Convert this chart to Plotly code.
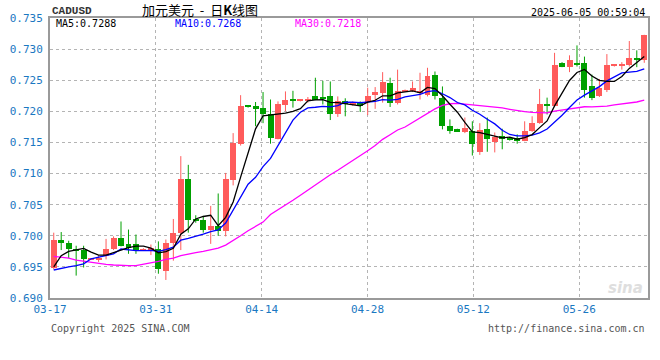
import plotly.graph_objects as go

# ---- data ----
opens = [0.6948, 0.6994, 0.6988, 0.6979, 0.6977, 0.6962, 0.6962, 0.6968, 0.6979, 0.6997,
         0.6987, 0.6986, 0.6977, 0.6975, 0.6979, 0.6943, 0.6988, 0.7004, 0.7092, 0.7027,
         0.7026, 0.7010, 0.7016, 0.7007, 0.7090, 0.7148, 0.7209, 0.7208, 0.7206, 0.7196,
         0.7156, 0.7210, 0.7219, 0.7217, 0.7218, 0.7225, 0.7223, 0.7225, 0.7196, 0.7217,
         0.7211, 0.7213, 0.7215, 0.7226, 0.7229, 0.7246, 0.7213, 0.7232, 0.7232, 0.7230,
         0.7227, 0.7259, 0.7222, 0.7177, 0.7171, 0.7167, 0.7169, 0.7135, 0.7172, 0.7151,
         0.7161, 0.7156, 0.7157, 0.7153, 0.7168, 0.7181, 0.7210, 0.7209, 0.7278, 0.7272,
         0.7277, 0.7277, 0.7240, 0.7224, 0.7235, 0.7273, 0.7273, 0.7274, 0.7286, 0.7283]
highs = [0.7005, 0.7006, 0.6992, 0.6984, 0.6984, 0.6964, 0.6969, 0.6995, 0.6999, 0.7023,
         0.7010, 0.7002, 0.6980, 0.6986, 0.6991, 0.6994, 0.7027, 0.7128, 0.7114, 0.7033,
         0.7032, 0.7048, 0.7068, 0.7101, 0.7165, 0.7226, 0.7210, 0.7215, 0.7231, 0.7219,
         0.7216, 0.7232, 0.7233, 0.7219, 0.7223, 0.7254, 0.7249, 0.7248, 0.7224, 0.7221,
         0.7216, 0.7216, 0.7238, 0.7239, 0.7263, 0.7254, 0.7267, 0.7235, 0.7248, 0.7262,
         0.7270, 0.7264, 0.7240, 0.7187, 0.7172, 0.7190, 0.7184, 0.7181, 0.7190, 0.7166,
         0.7172, 0.7158, 0.7163, 0.7184, 0.7192, 0.7236, 0.7222, 0.7294, 0.7279, 0.7290,
         0.7306, 0.7288, 0.7259, 0.7252, 0.7292, 0.7275, 0.7279, 0.7313, 0.7298, 0.7323]
lows = [0.6946, 0.6977, 0.6964, 0.6936, 0.6949, 0.6961, 0.6958, 0.6962, 0.6977, 0.6983,
        0.6971, 0.6971, 0.6976, 0.6969, 0.6939, 0.6929, 0.6960, 0.6977, 0.7005, 0.7021,
        0.7005, 0.6987, 0.7000, 0.6999, 0.7081, 0.7145, 0.7206, 0.7176, 0.7181, 0.7148,
        0.7155, 0.7200, 0.7206, 0.7216, 0.7214, 0.7218, 0.7211, 0.7186, 0.7191, 0.7192,
        0.7209, 0.7199, 0.7194, 0.7204, 0.7214, 0.7207, 0.7211, 0.7231, 0.7231, 0.7219,
        0.7224, 0.7219, 0.7171, 0.7164, 0.7167, 0.7165, 0.7129, 0.7130, 0.7135, 0.7134,
        0.7139, 0.7153, 0.7148, 0.7152, 0.7167, 0.7180, 0.7195, 0.7207, 0.7271, 0.7263,
        0.7272, 0.7222, 0.7218, 0.7223, 0.7231, 0.7272, 0.7267, 0.7272, 0.7271, 0.7278]
closes = [0.6994, 0.6988, 0.6979, 0.6976, 0.6962, 0.6963, 0.6965, 0.6979, 0.6997, 0.6984,
          0.6980, 0.6977, 0.6979, 0.6981, 0.6946, 0.6989, 0.7005, 0.7091, 0.7025, 0.7025,
          0.7009, 0.7015, 0.7007, 0.7092, 0.7149, 0.7208, 0.7207, 0.7203, 0.7196, 0.7157,
          0.7211, 0.7219, 0.7217, 0.7218, 0.7219, 0.7219, 0.7221, 0.7195, 0.7216, 0.7211,
          0.7213, 0.7209, 0.7225, 0.7231, 0.7247, 0.7213, 0.7233, 0.7234, 0.7237, 0.7232,
          0.7256, 0.7224, 0.7176, 0.7169, 0.7168, 0.7174, 0.7148, 0.7170, 0.7155, 0.7158,
          0.7155, 0.7155, 0.7153, 0.7168, 0.7182, 0.7211, 0.7209, 0.7274, 0.7272, 0.7282,
          0.7275, 0.7234, 0.7221, 0.7237, 0.7274, 0.7274, 0.7274, 0.7286, 0.7284, 0.7323]

# moving-average values before enough history is shown in the window
ma5_head = [0.6950, 0.6968, 0.6975, 0.6978]
ma10_head = [0.6945, 0.6948, 0.6950, 0.6952, 0.6955, 0.6963, 0.6966, 0.6968, 0.6971]
ma30_head = [0.6967, 0.6966, 0.6964, 0.6961, 0.6959, 0.6957, 0.6955, 0.6954, 0.6953, 0.6952,
             0.6952, 0.6952, 0.6954, 0.6956, 0.6959, 0.6962, 0.6964, 0.6968, 0.6971, 0.6973,
             0.6975, 0.6977, 0.6980, 0.6985, 0.6992, 0.7000, 0.7008, 0.7015, 0.7022]

tick_labels = ["03-17", "03-31", "04-14", "04-28", "05-12", "05-26"]
y_ticks = [0.690, 0.695, 0.700, 0.705, 0.710, 0.715, 0.720, 0.725, 0.730, 0.735]

symbol = "CADUSD"
title_cn = "加元美元\u00a0\u00a0-\u00a0\u00a0日<b>K</b>线图"
timestamp = "2025-06-05 00:59:04"


def moving_avg(vals, n, head):
    out = []
    for i in range(len(vals)):
        if i < n - 1:
            out.append(head[i])
        else:
            out.append(sum(vals[i - n + 1:i + 1]) / n)
    return out


n = len(closes)
idx = list(range(n))
ma5 = moving_avg(closes, 5, ma5_head)
ma10 = moving_avg(closes, 10, ma10_head)
ma30 = moving_avg(closes, 30, ma30_head)

RED = "#ff5b5b"
GREEN = "#00a000"
up = [c >= o for o, c in zip(opens, closes)]
colors = [RED if u else GREEN for u in up]

min_h = 0.00017
body_base = [min(o, c) for o, c in zip(opens, closes)]
body_h = [max(abs(c - o), min_h) for o, c in zip(opens, closes)]

fig = go.Figure()

# wicks
for flag, col in ((True, RED), (False, GREEN)):
    wx, wy = [], []
    for i in idx:
        if up[i] == flag:
            wx += [i, i, None]
            wy += [lows[i], highs[i], None]
    fig.add_trace(go.Scatter(x=wx, y=wy, mode="lines", line=dict(color=col, width=1),
                             hoverinfo="skip", showlegend=False))

# bodies
fig.add_trace(go.Bar(x=idx, y=body_h, base=body_base, width=0.8,
                     marker=dict(color=colors, line=dict(width=0)),
                     showlegend=False, hoverinfo="skip"))

# moving averages
fig.add_trace(go.Scatter(x=idx, y=ma30, mode="lines", line=dict(color="#ff00ff", width=1.3),
                         showlegend=False, hoverinfo="skip"))
fig.add_trace(go.Scatter(x=idx, y=ma10, mode="lines", line=dict(color="#0000ff", width=1.3),
                         showlegend=False, hoverinfo="skip"))
fig.add_trace(go.Scatter(x=idx, y=ma5, mode="lines", line=dict(color="#000000", width=1.3),
                         showlegend=False, hoverinfo="skip"))

AXIS_BLUE = "#1a78c2"
MONO = "DejaVu Sans Mono"

tick_pos = [-0.5 + k * 14.16 for k in range(len(tick_labels))]

fig.update_layout(
    width=660, height=360,
    margin=dict(l=50, r=10, t=18, b=62),
    paper_bgcolor="white", plot_bgcolor="white",
    bargap=0,
    xaxis=dict(range=[-0.5, n - 0.5], tickmode="array", tickvals=tick_pos, ticktext=tick_labels,
               showgrid=True, gridcolor="#b4b4b4", griddash="dot", gridwidth=1,
               zeroline=False, showline=True, mirror=True, linecolor="#9a9a9a", linewidth=2,
               ticks="", tickfont=dict(family=MONO, size=11, color=AXIS_BLUE)),
    yaxis=dict(range=[0.690, 0.735], tickmode="array", tickvals=y_ticks,
               ticktext=[f"{v:.3f}" for v in y_ticks],
               showgrid=True, gridcolor="#b4b4b4", griddash="dot", gridwidth=1,
               zeroline=False, showline=True, mirror=True, linecolor="#9a9a9a", linewidth=2,
               ticks="", ticklabelstandoff=3,
               tickfont=dict(family=MONO, size=11, color=AXIS_BLUE)),
)

ann = []
ann.append(dict(text=f"<b>{symbol}</b>", x=0.0, y=1.025, xref="paper", yref="paper",
                xanchor="left", yanchor="middle", showarrow=False,
                font=dict(family="Liberation Mono", size=11, color="#333333")))
ann.append(dict(text=title_cn, x=0.25, y=1.03, xref="paper", yref="paper",
                xanchor="center", yanchor="middle", showarrow=False,
                font=dict(family="Noto Sans CJK SC", size=13, color="#000000")))
ann.append(dict(text=timestamp, x=0.999, y=1.021, xref="paper", yref="paper",
                xanchor="right", yanchor="middle", showarrow=False,
                font=dict(family=MONO, size=10, color="#000000")))
ann.append(dict(text=f"MA5:{ma5[-1]:.4f}", x=0.007, y=0.979, xref="paper", yref="paper",
                xanchor="left", yanchor="middle", showarrow=False,
                font=dict(family=MONO, size=10, color="#000000")))
ann.append(dict(text=f"MA10:{ma10[-1]:.4f}", x=0.205, y=0.979, xref="paper", yref="paper",
                xanchor="left", yanchor="middle", showarrow=False,
                font=dict(family=MONO, size=10, color="#0000ff")))
ann.append(dict(text=f"MA30:{ma30[-1]:.4f}", x=0.407, y=0.979, xref="paper", yref="paper",
                xanchor="left", yanchor="middle", showarrow=False,
                font=dict(family=MONO, size=10, color="#ff00ff")))
ann.append(dict(text="Copyright 2025 SINA.COM", x=-0.002, y=-0.11, xref="paper", yref="paper",
                xanchor="left", yanchor="middle", showarrow=False,
                font=dict(family=MONO, size=10, color="#555555")))
ann.append(dict(text="http://finance.sina.com.cn", x=0.998, y=-0.11, xref="paper", yref="paper",
                xanchor="right", yanchor="middle", showarrow=False,
                font=dict(family=MONO, size=10, color="#555555")))
ann.append(dict(text="<b><i>sina</i></b>", x=0.995, y=0.035, xref="paper", yref="paper",
                xanchor="right", yanchor="middle", showarrow=False,
                font=dict(family="DejaVu Sans", size=15, color="#dedede")))
fig.update_layout(annotations=ann)

fig.write_html("out.html")
